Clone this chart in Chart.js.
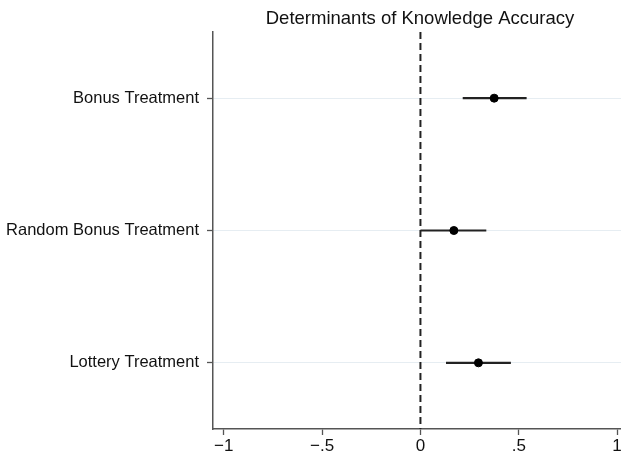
<!DOCTYPE html>
<html>
<head>
<meta charset="utf-8">
<script src="https://cdn.jsdelivr.net/npm/chart.js@4"></script>
<style>
  html, body { margin: 0; padding: 0; background: #fff; }
  #wrap { width: 621px; height: 458px; }
</style>
</head>
<body>
<div id="wrap"><canvas id="coefChart"></canvas></div>
<script>
const chartTitle = "Determinants of Knowledge Accuracy";
const categories = ["Bonus Treatment", "Random Bonus Treatment", "Lottery Treatment"];
const estimates = [0.375, 0.17, 0.295];
const ciLow = [0.215, 0.0, 0.13];
const ciHigh = [0.54, 0.335, 0.46];
const xTicks = [-1, -0.5, 0, 0.5, 1];
const xTickLabels = ["\u22121", "\u2212.5", "0", ".5", "1"];

const FONT = "'Liberation Sans', Arial, Helvetica, sans-serif";
const lineColor = "#222";

// one short line dataset per confidence interval
const ciSets = categories.map((c, i) => ({
    type: "line",
    data: [{ x: ciLow[i], y: i + 1 }, { x: ciHigh[i], y: i + 1 }],
    borderColor: lineColor,
    borderWidth: 2.2,
    pointRadius: 0,
    order: 2
}));

const titlePlugin = {
    id: "plotTitle",
    afterDraw(chart) {
        const { ctx, chartArea } = chart;
        ctx.save();
        ctx.font = "18.5px " + FONT;
        ctx.fillStyle = "#111";
        ctx.textAlign = "center";
        ctx.textBaseline = "alphabetic";
        ctx.fillText(chartTitle, (chartArea.left + chartArea.right) / 2 + 3, 24);
        ctx.restore();
    }
};

new Chart(document.getElementById("coefChart").getContext("2d"), {
    type: "scatter",
    data: {
        datasets: [
            ...ciSets,
            {
                type: "line",
                data: [{ x: 0, y: 0.5 }, { x: 0, y: 3.5 }],
                borderColor: lineColor,
                borderWidth: 2,
                borderDash: [7, 4],
                pointRadius: 0,
                order: 3
            },
            {
                data: estimates.map((v, i) => ({ x: v, y: i + 1 })),
                backgroundColor: "#000",
                borderColor: "#000",
                pointRadius: 4,
                order: 1
            }
        ]
    },
    options: {
        responsive: true,
        maintainAspectRatio: false,
        animation: false,
        layout: { autoPadding: false, padding: { top: 32, right: 0, bottom: 0, left: 0 } },
        plugins: {
            legend: { display: false },
            title: { display: false },
            tooltip: { enabled: false }
        },
        scales: {
            x: {
                type: "linear",
                min: -1.055,
                max: 1.02,
                afterBuildTicks: scale => { scale.ticks = xTicks.map(v => ({ value: v })); },
                afterFit: scale => { scale.height = 29; scale.paddingLeft = 0; scale.paddingRight = 0; },
                ticks: {
                    autoSkip: false,
                    maxRotation: 0,
                    padding: 1,
                    color: "#111",
                    font: { family: FONT, size: 17 },
                    callback: (v) => xTickLabels[xTicks.indexOf(v)]
                },
                grid: { drawOnChartArea: false, tickColor: "#555", tickLength: 6, tickWidth: 1.3 },
                border: { color: "#555", width: 1.5 }
            },
            y: {
                type: "linear",
                reverse: true,
                min: 0.5,
                max: 3.5,
                afterBuildTicks: scale => { scale.ticks = categories.map((c, i) => ({ value: i + 1 })); },
                afterFit: scale => { scale.width = 213; scale.paddingTop = 0; scale.paddingBottom = 0; },
                ticks: {
                    autoSkip: false,
                    padding: 8,
                    color: "#111",
                    font: { family: FONT, size: 16.5 },
                    callback: (v) => categories[v - 1]
                },
                grid: { color: "#e6edf2", lineWidth: 1, tickColor: "#555", tickLength: 6, tickWidth: 1.3 },
                border: { color: "#555", width: 1.5 }
            }
        }
    },
    plugins: [titlePlugin]
});
</script>
</body>
</html>
